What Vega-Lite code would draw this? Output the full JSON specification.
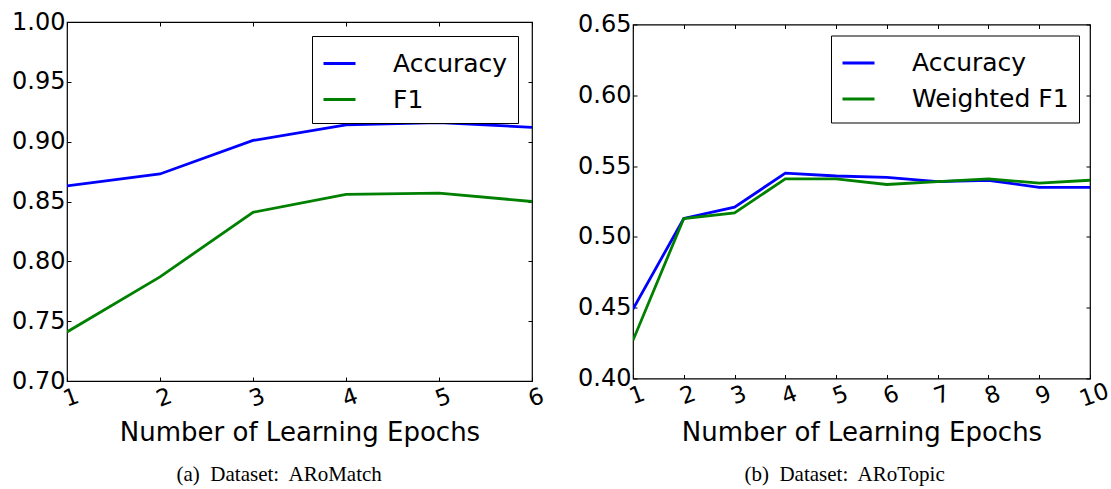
{
  "$schema": "https://vega.github.io/schema/vega-lite/v6.json",
  "padding": {"left": 10, "top": 9, "right": 0, "bottom": 0},
  "background": "white",
  "datasets": {
    "match": [
      {"epoch": 1, "metric": "Accuracy", "value": 0.863},
      {"epoch": 2, "metric": "Accuracy", "value": 0.873},
      {"epoch": 3, "metric": "Accuracy", "value": 0.901},
      {"epoch": 4, "metric": "Accuracy", "value": 0.914},
      {"epoch": 5, "metric": "Accuracy", "value": 0.916},
      {"epoch": 6, "metric": "Accuracy", "value": 0.912},
      {"epoch": 1, "metric": "F1", "value": 0.741},
      {"epoch": 2, "metric": "F1", "value": 0.787},
      {"epoch": 3, "metric": "F1", "value": 0.841},
      {"epoch": 4, "metric": "F1", "value": 0.856},
      {"epoch": 5, "metric": "F1", "value": 0.857},
      {"epoch": 6, "metric": "F1", "value": 0.850}
    ],
    "topic": [
      {"epoch": 1, "metric": "Accuracy", "value": 0.449},
      {"epoch": 2, "metric": "Accuracy", "value": 0.513},
      {"epoch": 3, "metric": "Accuracy", "value": 0.521},
      {"epoch": 4, "metric": "Accuracy", "value": 0.545},
      {"epoch": 5, "metric": "Accuracy", "value": 0.543},
      {"epoch": 6, "metric": "Accuracy", "value": 0.542},
      {"epoch": 7, "metric": "Accuracy", "value": 0.539},
      {"epoch": 8, "metric": "Accuracy", "value": 0.540},
      {"epoch": 9, "metric": "Accuracy", "value": 0.535},
      {"epoch": 10, "metric": "Accuracy", "value": 0.535},
      {"epoch": 1, "metric": "Weighted F1", "value": 0.427},
      {"epoch": 2, "metric": "Weighted F1", "value": 0.513},
      {"epoch": 3, "metric": "Weighted F1", "value": 0.517},
      {"epoch": 4, "metric": "Weighted F1", "value": 0.541},
      {"epoch": 5, "metric": "Weighted F1", "value": 0.541},
      {"epoch": 6, "metric": "Weighted F1", "value": 0.537},
      {"epoch": 7, "metric": "Weighted F1", "value": 0.539},
      {"epoch": 8, "metric": "Weighted F1", "value": 0.541},
      {"epoch": 9, "metric": "Weighted F1", "value": 0.538},
      {"epoch": 10, "metric": "Weighted F1", "value": 0.540}
    ]
  },
  "bounds": "flush",
  "center": true,
  "spacing": 101,
  "hconcat": [
    {
      "width": 465,
      "height": 359,
      "data": {"name": "match"},
      "title": {"text": "(a)\u00a0 Dataset:\u00a0 ARoMatch", "orient": "bottom", "anchor": "middle", "frame": "bounds", "font": "Liberation Serif", "fontSize": 21, "fontWeight": "normal", "color": "black", "offset": 19},
      "layer": [
        {
          "mark": {"type": "line", "strokeWidth": 2.8, "clip": true},
          "encoding": {
            "x": {"field": "epoch", "type": "quantitative", "scale": {"domain": [1, 6], "nice": false, "zero": false},
                  "axis": {"orient": "bottom", "values": [1, 2, 3, 4, 5, 6], "format": "d", "labelAngle": -20, "labelAlign": "center", "labelBaseline": "top", "labelPadding": 10, "labelFontSize": 23, "title": "Number of Learning Epochs"}},
            "y": {"field": "value", "type": "quantitative", "scale": {"domain": [0.7, 1.0], "nice": false, "zero": false},
                  "axis": {"orient": "left", "values": [0.7, 0.75, 0.8, 0.85, 0.9, 0.95, 1.0], "format": ".2f", "title": null}},
            "color": {"field": "metric", "type": "nominal", "scale": {"domain": ["Accuracy", "F1"], "range": ["#0000ff", "#008000"]},
                      "legend": {"title": null, "offset": 14}}
          }
        },
        {
          "mark": {"type": "line", "opacity": 0},
          "encoding": {
            "x": {"field": "epoch", "type": "quantitative", "axis": {"orient": "top", "values": [1, 2, 3, 4, 5, 6], "labels": false, "title": null}},
            "y": {"field": "value", "type": "quantitative", "axis": {"orient": "right", "values": [0.7, 0.75, 0.8, 0.85, 0.9, 0.95, 1.0], "labels": false, "title": null}},
            "detail": {"field": "metric", "type": "nominal"}
          }
        }
      ],
      "resolve": {"axis": {"x": "independent", "y": "independent"}}
    },
    {
      "width": 457,
      "height": 354,
      "data": {"name": "topic"},
      "title": {"text": "(b)\u00a0 Dataset:\u00a0 ARoTopic", "orient": "bottom", "anchor": "middle", "frame": "bounds", "font": "Liberation Serif", "fontSize": 21, "fontWeight": "normal", "color": "black", "offset": 19},
      "layer": [
        {
          "mark": {"type": "line", "strokeWidth": 2.8, "clip": true},
          "encoding": {
            "x": {"field": "epoch", "type": "quantitative", "scale": {"domain": [1, 10], "nice": false, "zero": false},
                  "axis": {"orient": "bottom", "values": [1, 2, 3, 4, 5, 6, 7, 8, 9, 10], "format": "d", "labelAngle": -20, "labelAlign": "center", "labelBaseline": "top", "labelPadding": 10, "labelFontSize": 23, "title": "Number of Learning Epochs"}},
            "y": {"field": "value", "type": "quantitative", "scale": {"domain": [0.4, 0.65], "nice": false, "zero": false},
                  "axis": {"orient": "left", "values": [0.4, 0.45, 0.5, 0.55, 0.6, 0.65], "format": ".2f", "title": null}},
            "color": {"field": "metric", "type": "nominal", "scale": {"domain": ["Accuracy", "Weighted F1"], "range": ["#0000ff", "#008000"]},
                      "legend": {"title": null, "offset": 11}}
          }
        },
        {
          "mark": {"type": "line", "opacity": 0},
          "encoding": {
            "x": {"field": "epoch", "type": "quantitative", "axis": {"orient": "top", "values": [1, 2, 3, 4, 5, 6, 7, 8, 9, 10], "labels": false, "title": null}},
            "y": {"field": "value", "type": "quantitative", "axis": {"orient": "right", "values": [0.4, 0.45, 0.5, 0.55, 0.6, 0.65], "labels": false, "title": null}},
            "detail": {"field": "metric", "type": "nominal"}
          }
        }
      ],
      "resolve": {"axis": {"x": "independent", "y": "independent"}}
    }
  ],
  "resolve": {"scale": {"color": "independent"}, "legend": {"color": "independent"}},
  "config": {
    "font": "DejaVu Sans",
    "view": {"stroke": "black", "strokeWidth": 1.2},
    "axis": {
      "grid": false, "domain": false, "ticks": true, "tickSize": -4, "tickColor": "black", "tickWidth": 1,
      "labelColor": "black", "labelFont": "DejaVu Sans", "labelFontSize": 24, "labelPadding": 6,
      "labelFlush": false, "labelOverlap": false, "labelBound": false,
      "titleFont": "DejaVu Sans", "titleFontSize": 26, "titleFontWeight": "normal", "titleColor": "black", "titlePadding": 8
    },
    "legend": {
      "orient": "top-right", "strokeColor": "black", "strokeWidth": 1, "fillColor": "white", "padding": 10, "cornerRadius": 0,
      "symbolType": "stroke", "symbolSize": 1024, "symbolStrokeWidth": 3, "labelFont": "DejaVu Sans", "labelFontSize": 25,
      "labelColor": "black", "labelOffset": 36, "rowPadding": 5, "labelLimit": 300
    },
    "title": {"font": "Liberation Serif"}
  }
}
